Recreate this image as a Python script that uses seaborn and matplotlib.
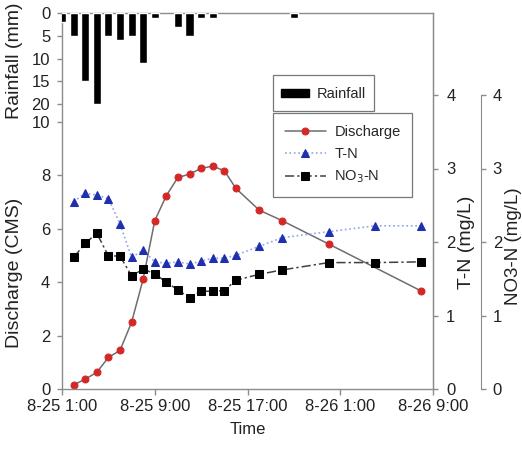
import numpy as np
import pandas as pd
import matplotlib
matplotlib.use('Agg')
import matplotlib.pyplot as plt
import matplotlib.dates as mdates
import seaborn as sns
from matplotlib.ticker import FuncFormatter, FixedLocator
from matplotlib.patches import Patch, Rectangle
from matplotlib.legend_handler import HandlerPatch

sns.set_style('white')
plt.rcParams['font.family'] = ['Liberation Sans', 'DejaVu Sans']

# ---------------- data ----------------
start = pd.Timestamp('2009-08-25 01:00')
rain_hours = [0, 1, 2, 3, 4, 5, 6, 7, 8, 10, 11, 12, 13, 20]
rain_mm = [2, 5, 15, 20, 5, 6, 5, 11, 1, 3, 5, 1, 1, 1]

q_hours = [1, 2, 3, 4, 5, 6, 7, 8, 9, 10, 11, 12, 13, 14, 15, 17, 19, 23, 31]
discharge = [0.15, 0.37, 0.62, 1.18, 1.44, 2.49, 4.11, 6.29, 7.23, 7.91, 8.03,
             8.25, 8.33, 8.16, 7.50, 6.69, 6.29, 5.42, 3.66]

wq_hours = [1, 2, 3, 4, 5, 6, 7, 8, 9, 10, 11, 12, 13, 14, 15, 17, 19, 23, 27, 31]
tn = [2.55, 2.66, 2.64, 2.59, 2.25, 1.79, 1.89, 1.73, 1.71, 1.73, 1.70, 1.74,
      1.78, 1.78, 1.82, 1.94, 2.06, 2.14, 2.22, 2.22]
no3 = [1.79, 1.98, 2.12, 1.81, 1.81, 1.54, 1.63, 1.57, 1.45, 1.35, 1.24, 1.33,
       1.33, 1.34, 1.48, 1.56, 1.62, 1.72, 1.72, 1.73]

xtick_hours = [0, 8, 16, 24, 32]

rain_t = [start + pd.Timedelta(hours=h) for h in rain_hours]
q_t = [start + pd.Timedelta(hours=h) for h in q_hours]
wq_t = [start + pd.Timedelta(hours=h) for h in wq_hours]
xt = [start + pd.Timedelta(hours=h) for h in xtick_hours]

# ---------------- figure ----------------
W, H = 522, 449
fig = plt.figure(figsize=(W / 100, H / 100), dpi=100)
L, R, T, B = 62, 433, 13, 389
ax = fig.add_axes([L / W, 1 - B / H, (R - L) / W, (B - T) / H])
ax.set_facecolor('white')

GRAY = '#8c8c8c'
TXT = '#222222'

ax_rain = ax.twinx()
ax_tn = ax.twinx()
ax_no3 = ax.twinx()

# rainfall bars
ax_rain.bar(rain_t, rain_mm, width=0.7 / 24, color='black', align='center')
ax_rain.set_ylim(82.6, 0)
ax_rain.yaxis.tick_left()
ax_rain.yaxis.set_label_position('left')
ax_rain.set_yticks([0, 5, 10, 15, 20])
for s in ax_rain.spines.values():
    s.set_visible(False)

# discharge
sns.lineplot(x=q_t, y=discharge, ax=ax, color='#6e6e6e', lw=1.1, marker='o',
             markersize=5, markerfacecolor='#d42828', markeredgecolor='#d42828',
             sort=False, estimator=None, label='Discharge', legend=False)
ax.set_ylim(0, 376 / 26.75)
ax.set_yticks([0, 2, 4, 6, 8, 10])

# T-N
sns.lineplot(x=wq_t, y=tn, ax=ax_tn, color='#8ea6e6', lw=1.2, linestyle=':',
             marker='^', markersize=6, markerfacecolor='#1f2fb0',
             markeredgecolor='#1f2fb0', sort=False, estimator=None,
             label='T-N', legend=False)
ax_tn.set_ylim(0, 376 / 73.5)
ax_tn.set_yticks([0, 1, 2, 3, 4])

# NO3-N
sns.lineplot(x=wq_t, y=no3, ax=ax_no3, color='#404040', lw=1.1,
             linestyle=(0, (6, 2, 1.5, 2)), marker='s', markersize=5.5,
             markerfacecolor='black', markeredgecolor='black', sort=False,
             estimator=None, label='NO$_3$-N', legend=False)
ax_no3.set_ylim(0, 376 / 73.5)
ax_no3.set_yticks([0, 1, 2, 3, 4])

# x axis
ax.set_xlim(xt[0], xt[-1])
ax.xaxis.set_major_locator(FixedLocator(mdates.date2num(xt)))


def fmt(v, pos=None):
    d = mdates.num2date(v)
    return f"{d.month}-{d.day} {d.hour}:{d.minute:02d}"


ax.xaxis.set_major_formatter(FuncFormatter(fmt))

# spines
for name in ['left', 'bottom', 'top', 'right']:
    ax.spines[name].set_visible(True)
    ax.spines[name].set_color(GRAY)
    ax.spines[name].set_linewidth(1.0)
for name in ['left', 'bottom', 'top']:
    ax_tn.spines[name].set_visible(False)
    ax_no3.spines[name].set_visible(False)
ax_tn.spines['right'].set_color(GRAY)
ax_no3.spines['right'].set_color(GRAY)
ax_no3.spines['right'].set_position(('outward', 48 * 0.72))
ax_no3.spines['right'].set_bounds(0, 4)

fs_tick = 12
for a in [ax, ax_rain, ax_tn, ax_no3]:
    a.tick_params(axis='y', direction='out', length=3.5, width=1, colors=GRAY,
                  labelcolor=TXT, labelsize=fs_tick, pad=5)
ax.tick_params(axis='y', left=True)
ax_rain.tick_params(axis='y', left=True, right=False)
ax_tn.tick_params(axis='y', right=True, pad=6)
ax_no3.tick_params(axis='y', right=True, pad=5)
ax.tick_params(axis='x', bottom=True, direction='out', length=4, width=1,
               colors=GRAY, labelcolor=TXT, labelsize=fs_tick, pad=3)

fs_lab = 14
ax.set_ylabel('Discharge (CMS)', fontsize=fs_lab, color=TXT)
ax.yaxis.set_label_coords(-0.105, 0.31)
ax_rain.set_ylabel('Rainfall (mm)', fontsize=fs_lab, color=TXT)
ax_rain.yaxis.set_label_coords(-0.105, 0.872)
ax_tn.set_ylabel('T-N (mg/L)', fontsize=fs_lab, color=TXT)
ax_tn.yaxis.set_label_coords(1.068, 0.39)
ax_no3.set_ylabel('NO3-N (mg/L)', fontsize=13.5, color=TXT)
ax_no3.yaxis.set_label_coords(1.194, 0.38)
ax.set_xlabel('Time', fontsize=fs_tick, color=TXT, labelpad=6)


# legends
def make_rect(legend, orig_handle, xdescent, ydescent, width, height, fontsize):
    h = height * 0.4
    return Rectangle((-xdescent, -ydescent + (height - h) / 2), width, h)


leg1 = fig.legend(handles=[Patch(facecolor='black', edgecolor='black')],
                  labels=['Rainfall'], loc='upper left',
                  bbox_to_anchor=(273 / W, 1 - 75 / H), borderaxespad=0,
                  fontsize=10.5, frameon=True, fancybox=False, edgecolor='#555555',
                  handlelength=1.95, handleheight=1.7, borderpad=0.55,
                  handletextpad=0.5,
                  handler_map={Patch: HandlerPatch(patch_func=make_rect)})
leg1.get_frame().set_linewidth(0.9)

handles = [ax.get_lines()[0], ax_tn.get_lines()[0], ax_no3.get_lines()[0]]
labels = ['Discharge', 'T-N', 'NO$_3$-N']
leg2 = fig.legend(handles=handles, labels=labels, loc='upper left',
                  bbox_to_anchor=(273 / W, 1 - 113 / H), borderaxespad=0,
                  fontsize=10.5, frameon=True, fancybox=False, edgecolor='#555555',
                  handlelength=2.8, borderpad=0.8, labelspacing=0.55,
                  handletextpad=0.6)
leg2.get_frame().set_linewidth(0.9)

fig.savefig('out.png', dpi=100, facecolor='white')
